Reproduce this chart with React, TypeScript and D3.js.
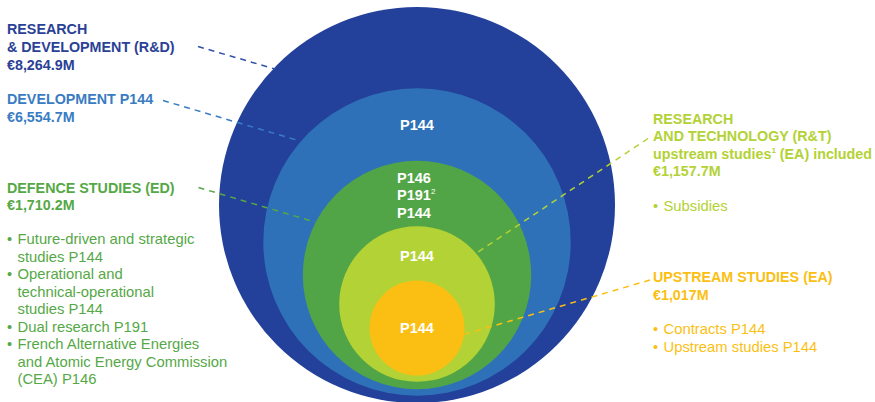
import React from "react";
import * as d3 from "d3";

// ---- data ----
const categories = ["R&D", "Development", "Defence studies (ED)", "R&T", "Upstream studies (EA)"];
const amounts = [8264.9, 6554.7, 1710.2, 1157.7, 1017];
const programmeLabels: string[][] = [[], ["P144"], ["P146", "P191", "P144"], ["P144"], ["P144"]];
const defenceItems = [
  ["Future-driven and strategic", "studies P144"],
  ["Operational and", "technical-operational", "studies P144"],
  ["Dual research P191"],
  ["French Alternative Energies", "and Atomic Energy Commission", "(CEA) P146"],
];
const rtItems = [["Subsidies"]];
const eaItems = [["Contracts P144"], ["Upstream studies P144"]];

// ---- layout / style ----
const W = 875, H = 402;
const FONT = "'Liberation Sans', Arial, Helvetica, sans-serif";
const fills = ["#23419a", "#2e71b8", "#52a546", "#b3d235", "#fbbf13"];
const textColors = ["#2a4196", "#3a7cc2", "#55a846", "#b3d235", "#fbbf13"];
const lineColors = ["#2f52a8", "#3a7cc2", "#55a846", "#b3d235", "#fbbf13"];
const CX = 417;
const radii = [198, 153.7, 114.2, 77.8, 47.5];
const centersY = [205, 242, 275, 304, 328];
const leaders = [
  { x1: 198, y1: 46.5, x2: 275, y2: 69 },
  { x1: 163, y1: 100.5, x2: 300, y2: 141 },
  { x1: 198.5, y1: 187.5, x2: 315, y2: 222 },
  { x1: 648, y1: 138.5, x2: 475, y2: 254 },
  { x1: 650, y1: 280, x2: 452, y2: 338 },
];

const fmt = (v: number) => "€" + d3.format(",")(v) + "M";
const fmt1 = (v: number) => "€" + d3.format(",.1f")(v) + "M";

function Bullets({ items, x, y0, step, color }: { items: string[][]; x: number; y0: number; step: number; color: string }) {
  let line = 0;
  const out: React.ReactNode[] = [];
  items.forEach((it, i) => {
    it.forEach((t, j) => {
      const y = y0 + line * step;
      if (j === 0)
        out.push(
          <text key={`b${i}`} x={x} y={y} fill={color} fontSize={14.5} fontFamily={FONT}>
            •
          </text>
        );
      out.push(
        <text key={`t${i}-${j}`} x={x + 10.5} y={y} fill={color} fontSize={14.8} fontFamily={FONT}>
          {t}
        </text>
      );
      line++;
    });
  });
  return <g>{out}</g>;
}

function Heading({ lines, x, y0, step, color }: { lines: React.ReactNode[]; x: number; y0: number; step: number; color: string }) {
  return (
    <g>
      {lines.map((l, i) => (
        <text key={i} x={x} y={y0 + i * step} fill={color} fontSize={14.3} fontWeight="bold" fontFamily={FONT}>
          {l}
        </text>
      ))}
    </g>
  );
}

export default function App() {
  const idx = d3.range(categories.length);
  return (
    <svg
      width={W}
      height={H}
      viewBox={`0 0 ${W} ${H}`}
      style={{ position: "absolute", left: 0, top: 0, display: "block", background: "#fff" }}
    >
      {idx.map((i) => (
        <circle key={categories[i]} cx={CX} cy={centersY[i]} r={radii[i]} fill={fills[i]} />
      ))}
      {leaders.map((l, i) => (
        <line
          key={`l${i}`}
          x1={l.x1}
          y1={l.y1}
          x2={l.x2}
          y2={l.y2}
          stroke={lineColors[i]}
          strokeWidth={1.5}
          strokeDasharray="6 5"
        />
      ))}
      {/* circle programme labels */}
      <text x={CX} y={130} textAnchor="middle" fill="#fff" fontSize={14.5} fontWeight="bold" fontFamily={FONT}>
        {programmeLabels[1][0]}
      </text>
      {programmeLabels[2].map((p, j) => (
        <text key={p + j} x={397} y={182.7 + j * 17.5} fill="#fff" fontSize={14.5} fontWeight="bold" fontFamily={FONT}>
          {p}
          {p === "P191" ? (
            <tspan fontSize={8} fontWeight="normal" dy={-6}>
              2
            </tspan>
          ) : null}
        </text>
      ))}
      <text x={CX} y={260.7} textAnchor="middle" fill="#fff" fontSize={14.5} fontWeight="bold" fontFamily={FONT}>
        {programmeLabels[3][0]}
      </text>
      <text x={CX} y={333.3} textAnchor="middle" fill="#fff" fontSize={14.5} fontWeight="bold" fontFamily={FONT}>
        {programmeLabels[4][0]}
      </text>

      {/* left annotations */}
      <Heading
        lines={["RESEARCH", "& DEVELOPMENT (R&D)", fmt1(amounts[0])]}
        x={7}
        y0={34.3}
        step={18}
        color={textColors[0]}
      />
      <Heading lines={["DEVELOPMENT P144", fmt1(amounts[1])]} x={7} y0={104.3} step={17.5} color={textColors[1]} />
      <Heading lines={["DEFENCE STUDIES (ED)", fmt1(amounts[2])]} x={7} y0={192.7} step={17} color={textColors[2]} />
      <Bullets items={defenceItems} x={7} y0={244} step={17.5} color={textColors[2]} />

      {/* right annotations */}
      <Heading
        lines={[
          "RESEARCH",
          "AND TECHNOLOGY (R&T)",
          <>
            upstream studies
            <tspan fontSize={8} dy={-6}>
              1
            </tspan>
            <tspan dy={6}> (EA) included</tspan>
          </>,
          fmt1(amounts[3]),
        ]}
        x={653}
        y0={124}
        step={17.3}
        color={textColors[3]}
      />
      <Bullets items={rtItems} x={653} y0={210.7} step={17.5} color={textColors[3]} />
      <Heading lines={["UPSTREAM STUDIES (EA)", fmt(amounts[4])]} x={653} y0={282.3} step={17.7} color={textColors[4]} />
      <Bullets items={eaItems} x={653} y0={333.5} step={18} color={textColors[4]} />
    </svg>
  );
}
